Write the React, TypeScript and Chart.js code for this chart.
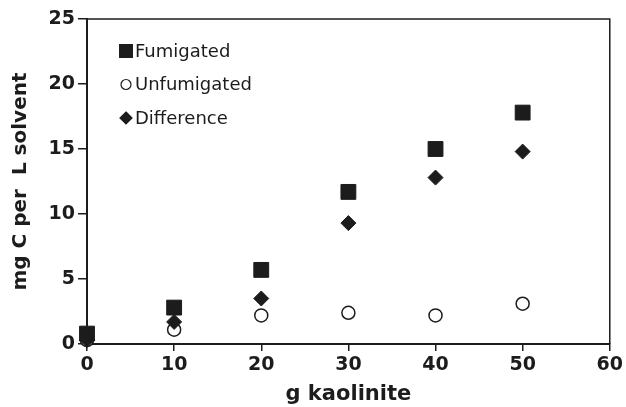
import React, { useEffect, useRef } from 'react';
import { Chart, registerables } from 'chart.js';

Chart.register(...registerables);

const xValues = [0, 10, 20, 30, 40, 50];
const fumigated = [0.8, 2.8, 5.7, 11.7, 15.0, 17.8];
const unfumigated = [0.3, 1.1, 2.2, 2.4, 2.2, 3.1];
const difference = [0.3, 1.7, 3.5, 9.3, 12.8, 14.8];
const seriesLabels = ['Fumigated', 'Unfumigated', 'Difference'];
const xTitle = 'g kaolinite';
const yTitle = 'mg C per  L solvent';

const INK = '#1c1c1c';

function drawMarker(ctx: CanvasRenderingContext2D, style: string, x: number, y: number, r: number, fill: string) {
  ctx.save();
  ctx.beginPath();
  if (style === 'rect') {
    const s = r * Math.SQRT1_2;
    ctx.rect(x - s, y - s, 2 * s, 2 * s);
  } else if (style === 'circle') {
    ctx.arc(x, y, r, 0, Math.PI * 2);
  } else {
    ctx.moveTo(x, y - r);
    ctx.lineTo(x + r, y);
    ctx.lineTo(x, y + r);
    ctx.lineTo(x - r, y);
    ctx.closePath();
  }
  ctx.fillStyle = fill;
  ctx.fill();
  ctx.lineWidth = 1.2;
  ctx.strokeStyle = INK;
  ctx.stroke();
  ctx.restore();
}

const framePlugin = {
  id: 'frameAndLegend',
  afterDraw(chart: any) {
    const { ctx, chartArea } = chart;
    ctx.save();
    ctx.strokeStyle = INK;
    ctx.lineWidth = 1.5;
    ctx.beginPath();
    ctx.moveTo(chartArea.left, chartArea.top);
    ctx.lineTo(chartArea.right, chartArea.top);
    ctx.lineTo(chartArea.right, chartArea.bottom);
    ctx.stroke();
    // legend
    const items = chart.data.datasets;
    const lx = chartArea.left + 39;
    const ly0 = chartArea.top + 32;
    const step = 33.5;
    [0, 1, 2].forEach((i, k) => {
      const ds = items[i];
      const y = ly0 + k * step;
      const r = ds.pointStyle === 'rect' ? 9 : ds.pointStyle === 'circle' ? 5 : 6;
      drawMarker(ctx, ds.pointStyle, lx, y, r, ds.pointBackgroundColor);
      ctx.fillStyle = INK;
      ctx.font = '18px "DejaVu Sans"';
      ctx.textBaseline = 'middle';
      ctx.textAlign = 'left';
      ctx.fillText(ds.label, lx + 9, y + 1);
    });
    ctx.restore();
  },
};

export default function App() {
  const canvasRef = useRef<HTMLCanvasElement | null>(null);

  useEffect(() => {
    document.body.style.margin = '0';
    const canvas = canvasRef.current;
    if (!canvas) return;
    const mk = (arr: number[]) => xValues.map((x, i) => ({ x, y: arr[i] }));
    const chart = new Chart(canvas, {
      type: 'scatter',
      data: {
        datasets: [
          {
            label: seriesLabels[0],
            data: mk(fumigated),
            pointStyle: 'rect',
            pointRadius: 10.5,
            pointBackgroundColor: INK,
            pointBorderColor: INK,
            pointBorderWidth: 1,
            order: 0,
            clip: false,
          },
          {
            label: seriesLabels[1],
            data: mk(unfumigated),
            pointStyle: 'circle',
            pointRadius: 6.5,
            pointBackgroundColor: '#ffffff',
            pointBorderColor: INK,
            pointBorderWidth: 1.5,
            order: 2,
            clip: false,
          },
          {
            label: seriesLabels[2],
            data: mk(difference),
            pointStyle: 'rectRot',
            pointRadius: 7.5,
            pointBackgroundColor: INK,
            pointBorderColor: INK,
            pointBorderWidth: 1,
            order: 1,
            clip: false,
          },
        ] as any,
      },
      options: {
        animation: false,
        responsive: false,
        maintainAspectRatio: false,
        layout: { padding: { top: 19, right: 16, left: 0, bottom: 0 } },
        plugins: {
          legend: { display: false },
          tooltip: { enabled: false },
        },
        scales: {
          x: {
            type: 'linear',
            min: 0,
            max: 60,
            ticks: {
              stepSize: 10,
              color: INK,
              font: { family: '"DejaVu Sans"', size: 19, weight: 'bold' },
              padding: 3,
            },
            grid: {
              display: true,
              drawOnChartArea: false,
              drawTicks: true,
              tickLength: 7,
              color: INK,
              lineWidth: 1.5,
            },
            border: { display: true, color: INK, width: 2 },
            title: {
              display: true,
              text: xTitle,
              color: INK,
              font: { family: '"DejaVu Sans"', size: 21, weight: 'bold' },
              padding: { top: 0, bottom: 0 },
            },
            afterFit: (scale: any) => {
              scale.height = 63;
            },
          },
          y: {
            type: 'linear',
            min: 0,
            max: 25,
            ticks: {
              stepSize: 5,
              color: INK,
              font: { family: '"DejaVu Sans"', size: 19, weight: 'bold' },
              padding: 3,
            },
            grid: {
              display: true,
              drawOnChartArea: false,
              drawTicks: true,
              tickLength: 9,
              color: INK,
              lineWidth: 1.5,
            },
            border: { display: true, color: INK, width: 2 },
            title: {
              display: true,
              text: yTitle,
              color: INK,
              font: { family: '"DejaVu Sans"', size: 20, weight: 'bold' },
              padding: { top: 9, bottom: 0 },
            },
            afterFit: (scale: any) => {
              scale.width = 87;
            },
          },
        },
      } as any,
      plugins: [framePlugin],
    });
    return () => chart.destroy();
  }, []);

  return (
    <div style={{ position: 'absolute', left: 0, top: 0, width: 626, height: 407, background: '#fff' }}>
      <canvas ref={canvasRef} width={626} height={407} style={{ width: 626, height: 407 }} />
    </div>
  );
}
